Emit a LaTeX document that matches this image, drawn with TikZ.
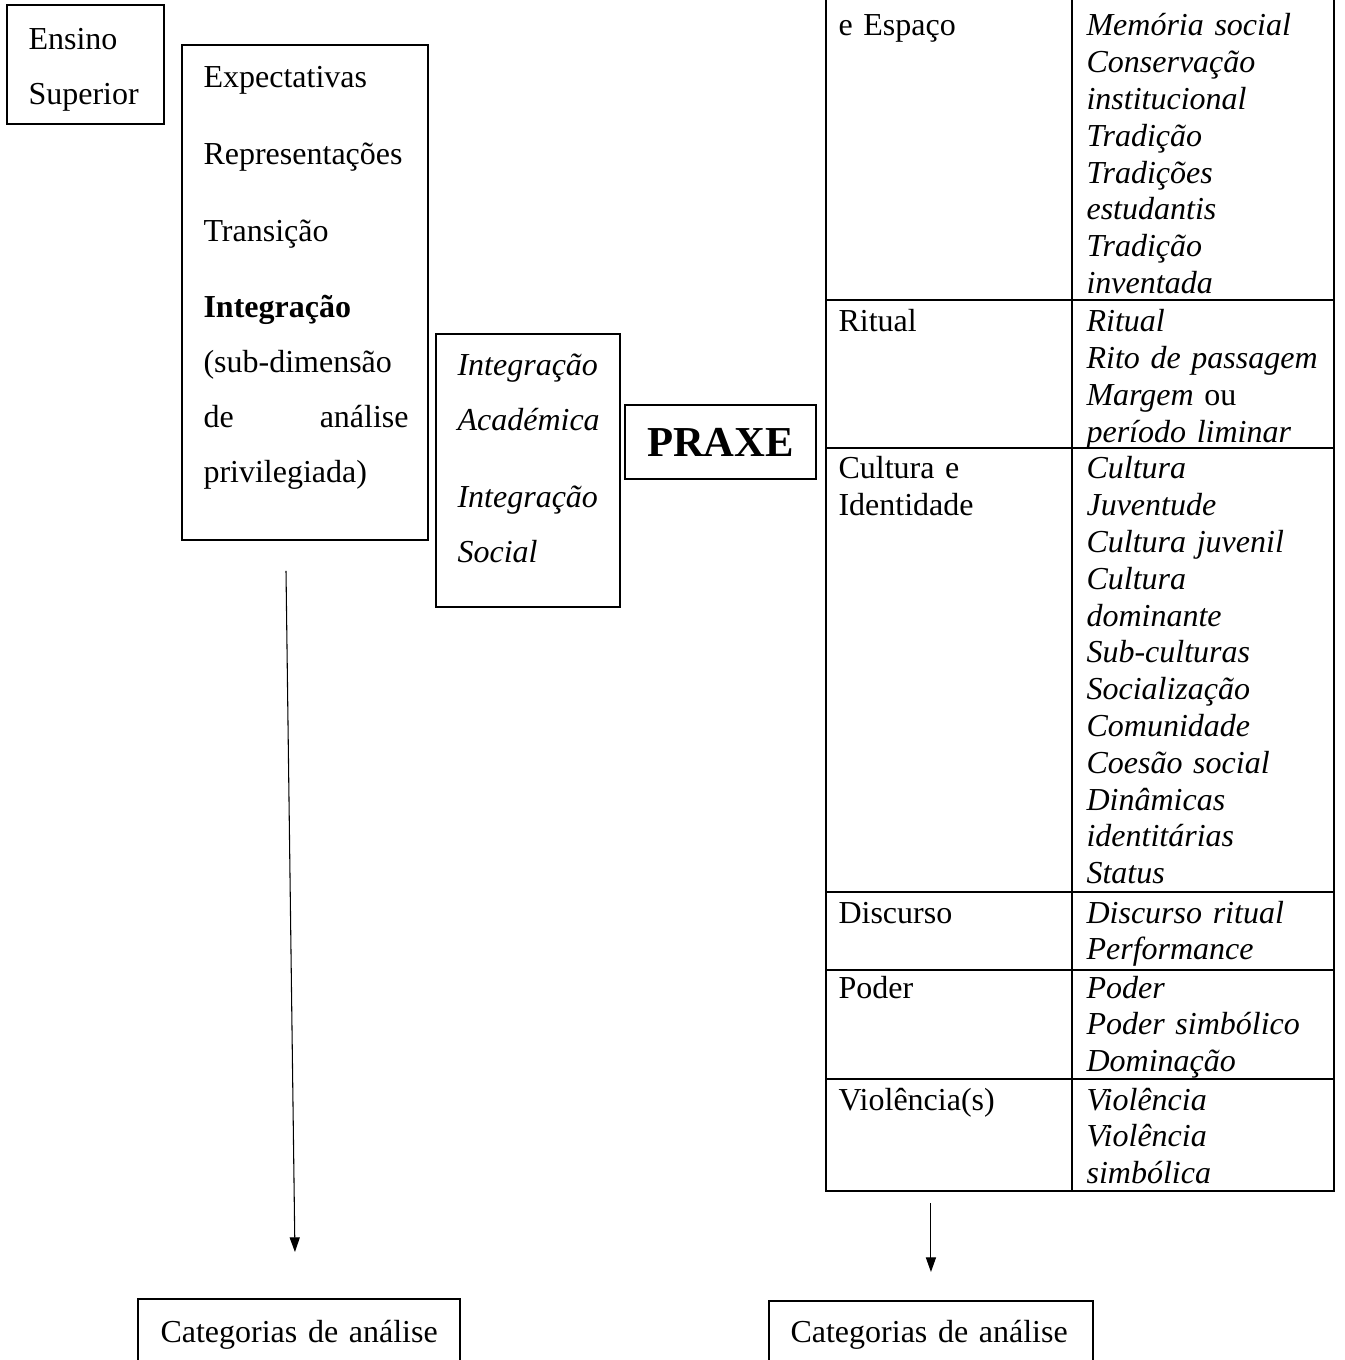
\documentclass[tikz,border=0pt]{standalone}
\usepackage{fontspec}
\setmainfont{Liberation Serif}
\usetikzlibrary{arrows.meta,calc}
\tikzset{>={Triangle[length=5.5pt,width=3.8pt]}}
\tikzset{
  box/.style={draw, line width=0.7pt, inner sep=0pt},
  rule/.style={line width=0.7pt},
  txt/.style={anchor=base west, inner sep=0pt, align=left, text width=110pt,
    font=\fontsize{12}{13.8}\selectfont},
  txtit/.style={txt, font=\fontsize{12}{13.8}\selectfont\itshape},
  wide/.style={font=\fontsize{12}{20.6}\selectfont},
  wideit/.style={font=\fontsize{12}{20.6}\selectfont\itshape}
}
\newcommand{\pgap}{\\[8.1pt]}

\begin{document}
\begin{tikzpicture}[x=0.375pt, y=-0.375pt]
    \useasboundingbox (0,0) rectangle (1344,1360);
    % left column of boxes
    \node [box, minimum width=58.9pt, minimum height=44.6pt](ensino) at (85.5,64.5){};
    \node [txt, wide](ensinotxt) at (28,50){Ensino\\Superior};
    \node [box, minimum width=92.25pt, minimum height=185.6pt](dims) at (305,292.5){};
    \node [txt, wide](dimstxt) at (203,88){Expectativas\pgap
      Representações\pgap
      Transição\pgap
      \textbf{Integração}\\
      (sub-dimensão\\
      \leavevmode\hbox to 76.9pt{de\hfill análise}\\
      privilegiada)};
    \node [box, minimum width=69pt, minimum height=102.4pt](integ) at (528,470.5){};
    \node [txt, wideit](integtxt) at (457,376){Integração\\Académica\pgap Integração\\Social};
    \node [box, minimum width=71.6pt, minimum height=27.75pt, font=\fontsize{16}{19}\selectfont\bfseries](praxe) at (720.5,442){PRAXE};
    % table
    \node [box, minimum width=190.5pt, minimum height=448.9pt, anchor=south west](tabela) at (825,1192){};
    \draw [rule] (1072,-5) -- (1072,1192);
    \foreach \y in {300,448,892,970,1079}
      \draw [rule] (825,\y) -- (1333,\y);
    \node [txt](espaco) at (838,36){e Espaço};
    \node [txtit](espacoit) at (1086,36){Memória social\\Conservação\\institucional\\Tradição\\Tradições\\estudantis\\Tradição\\inventada};
    \node [txt](ritual) at (838,332){Ritual};
    \node [txtit](ritualit) at (1086,332){Ritual\\Rito de passagem\\Margem \textup{ou}\\período liminar};
    \node [txt](cultura) at (838,479){Cultura e\\Identidade};
    \node [txtit](culturait) at (1086,479){Cultura\\Juventude\\Cultura juvenil\\Cultura\\dominante\\Sub-culturas\\Socialização\\Comunidade\\Coesão social\\Dinâmicas\\identitárias\\Status};
    \node [txt](discurso) at (838,923){Discurso};
    \node [txtit](discursoit) at (1086,923){Discurso ritual\\Performance};
    \node [txt](poder) at (838,998){Poder};
    \node [txtit](poderit) at (1086,998){Poder\\Poder simbólico\\Dominação};
    \node [txt](violencia) at (838,1110){Violência(s)};
    \node [txtit](violenciait) at (1086,1110){Violência\\Violência\\simbólica};
    % categories
    \node [box, minimum width=120.75pt, minimum height=30.75pt, anchor=north west](catA) at (137,1298){};
    \node [txt](catAtxt) at (160,1342){Categorias de análise};
    \node [box, minimum width=121.5pt, minimum height=30.75pt, anchor=north west](catB) at (768,1300){};
    \node [txt](catBtxt) at (790,1342){Categorias de análise};
    \coordinate (a1) at ($(dims.south)+(-19,30)$);
    \coordinate (a2) at ($(catA.north)+(-4,-46)$);
    \coordinate (b1) at ($(tabela.south)+(-149,11)$);
    \coordinate (b2) at ($(catB.north)+(0,-28)$);
    \draw [->] (a1) -- (a2);
    \draw [->] (b1) -- (b2);
\end{tikzpicture}
\end{document}
